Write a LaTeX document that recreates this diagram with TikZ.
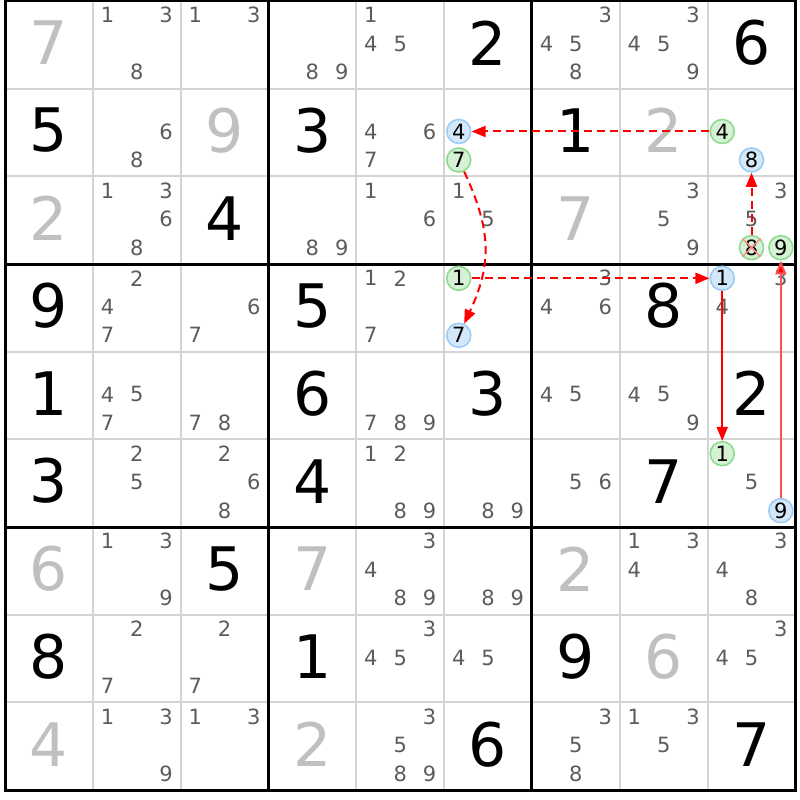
\documentclass[tikz,border=0pt]{standalone}
\usepackage{fontspec}
\setmainfont{DejaVu Sans}
\usetikzlibrary{arrows.meta}
\definecolor{thinline}{HTML}{D4D4D4}
\definecolor{candcol}{HTML}{5C5C5C}
\definecolor{solvedcol}{HTML}{C0C0C0}
\definecolor{bfill}{HTML}{D5E8FA}
\definecolor{bline}{HTML}{9CCBF5}
\definecolor{gfill}{HTML}{D5F2D5}
\definecolor{gline}{HTML}{8EDB8E}
\definecolor{linkred}{HTML}{FF0000}
\definecolor{linkpale}{HTML}{FF5050}
\newcommand\mycand[4]{%
  \pgfmathsetmacro\candX{5+87.83*(#3-1)+43.9+29.3*(mod(#4-1,3)-1)}%
  \pgfmathsetmacro\candY{1+87.67*(#2-1)+43.8-1+28.5*(int((#4-1)/3)-1)}%
  \node[#1] (n#2#3#4) at (\candX,\candY) {#4};}
\newcommand\mybig[4]{%
  \pgfmathsetmacro\candX{5+87.83*(#2-1)+43.9}%
  \pgfmathsetmacro\candY{1+87.67*(#1-1)+43.8-2}%
  \node[bignum, text=#4] (v#1#2) at (\candX,\candY) {#3};}
\begin{document}
\begin{tikzpicture}[x=1bp,y=-1bp,
  bignum/.style={font=\fontsize{60bp}{62bp}\selectfont, inner sep=0pt},
  candnum/.style={font=\fontsize{21bp}{23bp}\selectfont, text=candcol, inner sep=0pt},
  bluec/.style={circle, inner sep=0pt, minimum size=24bp, fill=bfill, draw=bline, line width=1.6bp, text=black, font=\fontsize{21bp}{23bp}\selectfont},
  greenc/.style={circle, inner sep=0pt, minimum size=24bp, fill=gfill, draw=gline, line width=1.6bp, text=black, font=\fontsize{21bp}{23bp}\selectfont},
  thingrid/.style={draw=thinline, line width=2bp},
  thickgrid/.style={draw=black, line width=3bp},
  linkd/.style={draw=linkred, line width=2bp, dash pattern=on 8bp off 5bp, -{Triangle[length=14bp,width=11bp]}},
  links/.style={draw=linkred, line width=2bp, -{Triangle[length=14bp,width=11bp]}},
  linkl/.style={draw=linkpale, line width=2bp, -{Triangle[length=14bp,width=11bp,fill=linkred]}},
  xmark/.style={draw=red!45, line width=1.4bp}
]
\useasboundingbox (0,0) rectangle (800,800);
\fill[white] (0,0) rectangle (800,800);
\foreach \k in {1,2,4,5,7,8} {
  \draw[thingrid] ({5+87.83*\k},1) -- ({5+87.83*\k},790);
  \draw[thingrid] (5,{1+87.67*\k}) -- (795.5,{1+87.67*\k});
}
\foreach \k in {0,3,6,9} {
  \draw[thickgrid] ({5+87.83*\k},-0.5) -- ({5+87.83*\k},791.5);
  \draw[thickgrid] (3.5,{1+87.67*\k}) -- (797,{1+87.67*\k});
}
% givens and solved
\foreach \r/\c/\v/\col in {1/1/7/solvedcol, 1/6/2/black, 1/9/6/black,
  2/1/5/black, 2/3/9/solvedcol, 2/4/3/black, 2/7/1/black, 2/8/2/solvedcol,
  3/1/2/solvedcol, 3/3/4/black, 3/7/7/solvedcol,
  4/1/9/black, 4/4/5/black, 4/8/8/black,
  5/1/1/black, 5/4/6/black, 5/6/3/black, 5/9/2/black,
  6/1/3/black, 6/4/4/black, 6/8/7/black,
  7/1/6/solvedcol, 7/3/5/black, 7/4/7/solvedcol, 7/7/2/solvedcol,
  8/1/8/black, 8/4/1/black, 8/7/9/black, 8/8/6/solvedcol,
  9/1/4/solvedcol, 9/4/2/solvedcol, 9/6/6/black, 9/9/7/black}
  {\mybig{\r}{\c}{\v}{\col}}
% candidates
\foreach \r/\c/\ds in {1/2/{1,3,8}, 1/3/{1,3}, 1/4/{8,9}, 1/5/{1,4,5}, 1/7/{3,4,5,8}, 1/8/{3,4,5,9},
  2/2/{6,8}, 2/5/{4,6,7},
  3/2/{1,3,6,8}, 3/4/{8,9}, 3/5/{1,6}, 3/6/{1,5}, 3/8/{3,5,9}, 3/9/{3,5},
  4/2/{2,4,7}, 4/3/{6,7}, 4/5/{1,2,7}, 4/7/{3,4,6}, 4/9/{3,4},
  5/2/{4,5,7}, 5/3/{7,8}, 5/5/{7,8,9}, 5/7/{4,5}, 5/8/{4,5,9},
  6/2/{2,5}, 6/3/{2,6,8}, 6/5/{1,2,8,9}, 6/6/{8,9}, 6/7/{5,6}, 6/9/{5},
  7/2/{1,3,9}, 7/5/{3,4,8,9}, 7/6/{8,9}, 7/8/{1,3,4}, 7/9/{3,4,8},
  8/2/{2,7}, 8/3/{2,7}, 8/5/{3,4,5}, 8/6/{4,5}, 8/9/{3,4,5},
  9/2/{1,3,9}, 9/3/{1,3}, 9/5/{3,5,8,9}, 9/7/{3,5,8}, 9/8/{1,3,5}}
  {\foreach \d in \ds {\mycand{candnum}{\r}{\c}{\d}}}
% highlighted candidates
\mycand{bluec}{2}{6}{4}
\mycand{greenc}{2}{6}{7}
\mycand{greenc}{2}{9}{4}
\mycand{bluec}{2}{9}{8}
\mycand{greenc}{3}{9}{8}
\mycand{greenc}{3}{9}{9}
\mycand{greenc}{4}{6}{1}
\mycand{bluec}{4}{6}{7}
\mycand{bluec}{4}{9}{1}
\mycand{greenc}{6}{9}{1}
\mycand{bluec}{6}{9}{9}
% elimination mark
\draw[xmark] (n398.north west) -- (n398.south east);
\draw[xmark] (n398.north east) -- (n398.south west);
% links
\draw[linkd] (n294) -- (n264);
\draw[linkd] (n267) to[out=-65,in=65,looseness=1.1] (n467);
\draw[linkd] (n461) -- (n491);
\draw[links] (n491) -- (n691);
\draw[linkl] (n699) -- (n399);
\draw[linkd] (n398) -- (n298);
\end{tikzpicture}
\end{document}
